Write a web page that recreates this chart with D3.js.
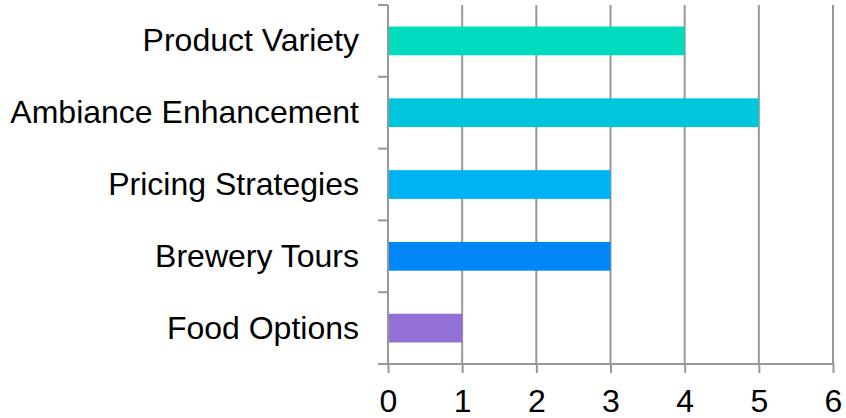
<!DOCTYPE html>
<html>
<head>
<meta charset="utf-8">
<script src="https://cdn.jsdelivr.net/npm/d3@7"></script>
<style>
  html, body { margin: 0; padding: 0; background: #fff; }
  svg { display: block; font-family: "Liberation Sans", Arial, sans-serif; }
</style>
</head>
<body>
<svg id="chart" width="846" height="418"></svg>
<script>
// Improvement ideas and how many times each was suggested
const categories = ["Product Variety", "Ambiance Enhancement", "Pricing Strategies", "Brewery Tours", "Food Options"];
const values = [4, 5, 3, 3, 1];
const barColors = ["#00DCBD", "#00C6DD", "#00B2F2", "#0086F5", "#9270D6"];
const xTicks = [0, 1, 2, 3, 4, 5, 6];

const width = 846, height = 418;
const margin = { top: 5, right: 13, bottom: 54, left: 388 };
const innerW = width - margin.left - margin.right;
const innerH = height - margin.top - margin.bottom;
const gridColor = "#979797";
const fontSize = 32;

const svg = d3.select("#chart");
const g = svg.append("g").attr("transform", `translate(${margin.left},${margin.top})`);

const x = d3.scaleLinear().domain([0, 6]).range([0, innerW]);
const y = d3.scaleBand().domain(categories).range([0, innerH]).paddingInner(0.6).paddingOuter(0.3);

// vertical gridlines
g.append("g").selectAll("line").data(xTicks.slice(1)).join("line")
  .attr("x1", d => x(d)).attr("x2", d => x(d))
  .attr("y1", 0).attr("y2", innerH)
  .attr("stroke", gridColor).attr("stroke-width", 2);

// bars
g.append("g").selectAll("rect").data(categories).join("rect")
  .attr("x", x(0))
  .attr("y", d => y(d))
  .attr("width", (d, i) => x(values[i]) - x(0))
  .attr("height", y.bandwidth())
  .attr("fill", (d, i) => barColors[i]);

// bottom axis
const xAxis = g.append("g").attr("transform", `translate(0,${innerH})`)
  .call(d3.axisBottom(x).tickValues(xTicks).tickFormat(d3.format("d")).tickSize(9).tickPadding(16));
xAxis.select(".domain").attr("stroke", gridColor).attr("stroke-width", 2).attr("d", `M0,0H${innerW}`);
xAxis.selectAll(".tick line").attr("stroke", gridColor).attr("stroke-width", 2);
xAxis.selectAll(".tick text").attr("fill", "#000").attr("font-size", fontSize)
  .attr("font-family", "'Liberation Sans', Arial, sans-serif");

// left axis: ticks sit on band boundaries, labels centred in each band
const step = innerH / categories.length;
const edges = d3.range(categories.length + 1).map(i => i * step);
const yAxis = g.append("g");
yAxis.append("line").attr("x1", 0).attr("x2", 0).attr("y1", 0).attr("y2", innerH)
  .attr("stroke", gridColor).attr("stroke-width", 2);
yAxis.selectAll("line.tick").data(edges).join("line").attr("class", "tick")
  .attr("x1", -10).attr("x2", 0).attr("y1", d => d).attr("y2", d => d)
  .attr("stroke", gridColor).attr("stroke-width", 2);
yAxis.selectAll("text").data(categories).join("text")
  .attr("x", -29)
  .attr("y", d => y(d) + y.bandwidth() / 2)
  .attr("dy", "0.33em")
  .attr("text-anchor", "end")
  .attr("font-size", fontSize)
  .attr("fill", "#000")
  .text(d => d);
</script>
</body>
</html>
